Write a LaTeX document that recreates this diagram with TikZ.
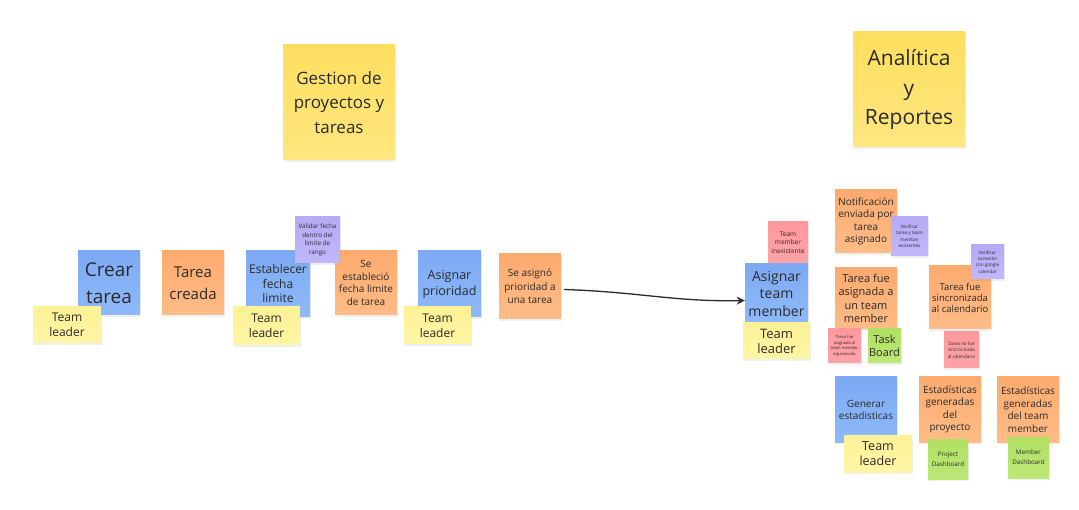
\documentclass[tikz,border=0pt]{standalone}
\usepackage{fontspec}
\setmainfont{Open Sans}
\usetikzlibrary{arrows.meta,shadows}
\definecolor{stBlueT}{HTML}{7DA9F3}
\definecolor{stBlueB}{HTML}{8EBAFA}
\definecolor{stOrT}{HTML}{FDAA6F}
\definecolor{stOrB}{HTML}{FFBC86}
\definecolor{stYelT}{HTML}{FEF196}
\definecolor{stYelB}{HTML}{FFF6A6}
\definecolor{stTitT}{HTML}{FCDF5E}
\definecolor{stTitB}{HTML}{FFE680}
\definecolor{stPinkT}{HTML}{FF999E}
\definecolor{stPinkB}{HTML}{FFA3A8}
\definecolor{stPurT}{HTML}{B5ABF6}
\definecolor{stPurB}{HTML}{C1B7FB}
\definecolor{stGrnT}{HTML}{B0E062}
\definecolor{stGrnB}{HTML}{BDE877}
\definecolor{txt}{HTML}{2B2B2B}
\tikzset{
  sticky/.style={rectangle, inner sep=1pt, align=center, text=txt,
    drop shadow={opacity=0.12, shadow xshift=0.6pt, shadow yshift=-1.6pt}},
  blue/.style={sticky, top color=stBlueT, bottom color=stBlueB},
  orange/.style={sticky, top color=stOrT, bottom color=stOrB},
  yel/.style={sticky, top color=stYelT, bottom color=stYelB},
  ttl/.style={sticky, top color=stTitT, bottom color=stTitB},
  pink/.style={sticky, top color=stPinkT, bottom color=stPinkB},
  purp/.style={sticky, top color=stPurT, bottom color=stPurB},
  grn/.style={sticky, top color=stGrnT, bottom color=stGrnB},
  sz/.style 2 args={minimum width=#1pt, minimum height=#2pt},
  fs/.style 2 args={font=\fontsize{#1}{#2}\selectfont},
  conn/.style={draw=txt, line width=1.3pt, -{Stealth[length=8pt,width=8pt]}}
}
\begin{document}
\begin{tikzpicture}[x=1pt,y=-1pt]
\useasboundingbox[fill=white] (0,0) rectangle (1079,510);
% titles
\node[ttl, sz={112}{115}, fs={17}{24.5}] (t1) at (339,102.5) {Gestion de\\proyectos y\\tareas};
\node[ttl, sz={112}{115}, fs={21}{29.5}] (t2) at (909,89.5) {Analítica\\y\\Reportes};
% left flow
\node[blue, sz={62}{64}, fs={19}{27}] (crear) at (109,283) {Crear\\tarea};
\node[yel, sz={68}{36}, fs={12}{15}] (tl1) at (67,325) {Team\\leader};
\node[orange, sz={62}{64}, fs={15}{22}] (creada) at (193,283) {Tarea\\creada};
\node[blue, sz={64}{66}, fs={12}{14.5}] (estab) at (278,284) {Establecer\\fecha\\limite};
\node[yel, sz={67}{38}, fs={12}{15}] (tl2) at (266.5,326) {Team\\leader};
\node[orange, sz={62}{64}, fs={10}{12.5}] (seest) at (366,283) {Se\\estableció\\fecha limite\\de tarea};
\node[purp, sz={45}{46}, fs={6.3}{8.5}] (valid) at (317.5,240) {Validar fecha\\dentro del\\limite de\\rango};
\node[blue, sz={63}{66}, fs={12.5}{16}] (prior) at (449.5,284) {Asignar\\prioridad};
\node[yel, sz={67}{37}, fs={12}{15}] (tl3) at (437.5,325.5) {Team\\leader};
\node[orange, sz={62}{65}, fs={10}{13.5}] (seasig) at (530,286.5) {Se asignó\\prioridad a\\una tarea};
% right cluster
\node[pink, sz={40}{41}, fs={6.5}{8.5}] (inex) at (788,242.5) {Team\\member\\inexistente};
\node[blue, sz={63}{59}, fs={14}{17.5}] (asigtm) at (776.5,293.5) {Asignar\\team\\member};
\node[yel, sz={67}{36}, fs={13}{15}] (tl4) at (776.5,341) {Team\\leader};
\node[orange, sz={62}{63}, fs={10}{12.5}] (notif) at (866,221.5) {Notificación\\enviada por\\tarea\\asignado};
\node[purp, sz={37}{39}, fs={4.6}{6.5}] (verif) at (909.5,236.5) {Verificar\\tarea y team\\member\\existentes};
\node[orange, sz={62}{61}, fs={11}{13.5}] (fueasig) at (866,298.5) {Tarea fue\\asignada a\\un team\\member};
\node[pink, sz={33}{34}, fs={4.1}{5.6}] (equiv) at (844.5,346) {Tarea fue\\asignada al\\team member\\equivocado};
\node[grn, sz={33}{34}, fs={11}{13}] (tboard) at (884.5,346) {Task\\Board};
\node[orange, sz={62}{63}, fs={9.5}{11}] (sinc) at (960,297.5) {Tarea fue\\sincronizada\\al calendario};
\node[purp, sz={33}{34}, fs={4.6}{6.3}] (vcon) at (987.5,262) {Verificar\\conexión\\con google\\calendar};
\node[pink, sz={35}{36}, fs={4.6}{6.3}] (nosinc) at (961.5,350) {Tarea no fue\\sincronizada\\al calendario};
\node[blue, sz={62}{65}, fs={10}{12}] (gen) at (866,409.5) {Generar\\estadisticas};
\node[yel, sz={68}{37}, fs={12.5}{15}] (tl5) at (878,453.5) {Team\\leader};
\node[orange, sz={62}{65}, fs={10}{12.5}] (estp) at (950,409.5) {Estadísticas\\generadas\\del\\proyecto};
\node[grn, sz={40}{40}, fs={6.3}{10}] (pdash) at (948,459) {Project\\Dashboard};
\node[orange, sz={62}{65}, fs={10}{12.5}] (estm) at (1028,409.5) {Estadísticas\\generadas\\del team\\member};
\node[grn, sz={41}{41}, fs={6.3}{10}] (mdash) at (1028.5,457.5) {Member\\Dashboard};
% connector
\draw[conn] (seasig.east) ++(3,3) coordinate (a0)
  (a0) .. controls (640,292) and (675,302) .. ([yshift=-7pt]asigtm.west);
\end{tikzpicture}
\end{document}
